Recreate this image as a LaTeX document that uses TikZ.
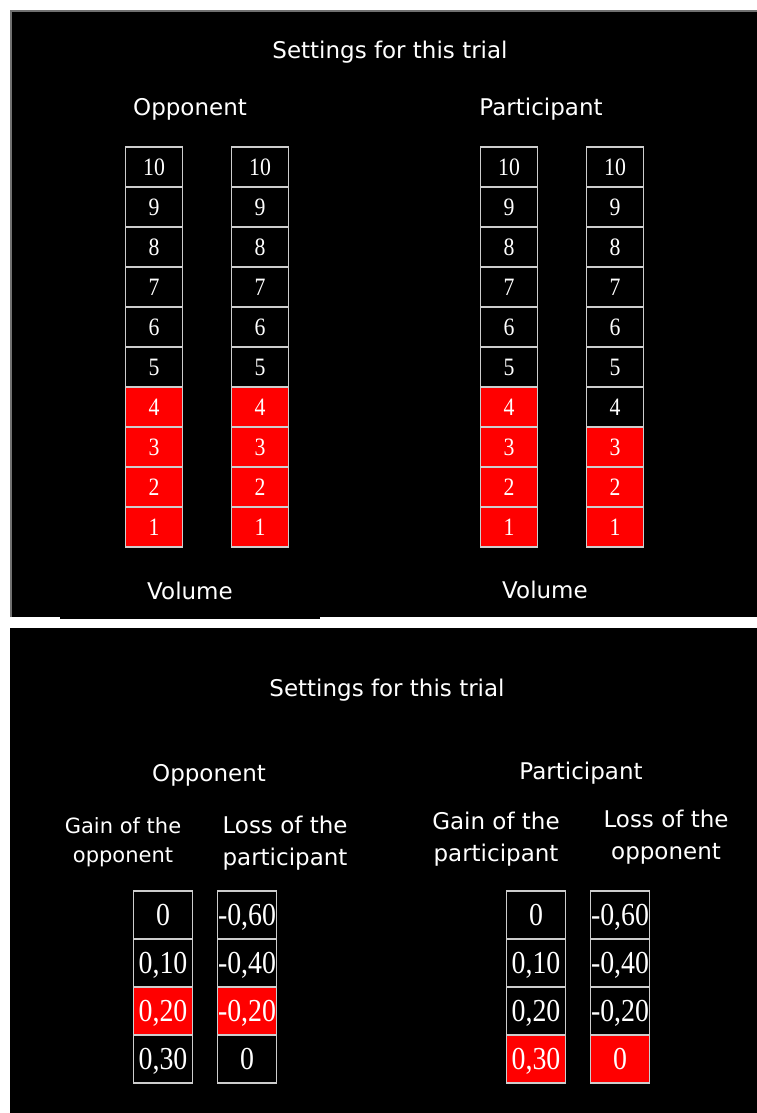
\documentclass[tikz,border=0pt]{standalone}
\usepackage{fontspec}
\setmainfont{DejaVu Sans}
\newfontfamily\numfont[FakeStretch=0.87]{Liberation Serif}
\usetikzlibrary{positioning}
\definecolor{Cadre}{RGB}{112,112,112}
\definecolor{Trait}{RGB}{205,205,205}
\definecolor{Rouge}{RGB}{255,0,0}
\tikzset{titre/.style={text=white, inner sep=0pt, font=\fontsize{23}{23}\selectfont}}
\tikzset{deuxl/.style={titre, align=center, font=\fontsize{23}{32}\selectfont}}
\tikzset{case/.style={rectangle, draw=Trait, fill=black, line width=1.2pt,
  text=white, minimum width=57pt, minimum height=40pt, inner sep=0pt,
  text depth=0pt, font=\numfont\fontsize{25}{25}\selectfont}}
\tikzset{caser/.style={case, fill=Rouge}}
\tikzset{casep/.style={case, minimum width=59pt, minimum height=48pt,
  font=\numfont\fontsize{32}{32}\selectfont}}
\tikzset{casepr/.style={casep, fill=Rouge}}

\begin{document}
\begin{tikzpicture}[x=1pt, y=-1pt]
\useasboundingbox (0,0) rectangle (757,1113);
\fill[white] (0,0) rectangle (757,1113);
% volume
\fill[black] (10,10) rectangle (757,617);
\fill[black] (60,617) rectangle (320,619);
\draw[Cadre, line width=2pt] (11,617) -- (11,11) -- (757,11);
\node[titre] (t1) at (390,52) {Settings for this trial};
\node[titre] (adv1) at (190,109) {Opponent};
\node[titre] (par1) at (541,109) {Participant};
\node[titre] (vol1) at (190,591) {Volume};
\node[titre] (vol2) at (545,590) {Volume};
\foreach \col/\cx/\nr in {a/154/4, b/260/4, c/509/4, d/615/3} {
  \foreach \v in {1,...,10} {
    \pgfmathsetmacro\cy{547-(\v-0.5)*40}
    \ifnum\v>\nr \def\sty{case}\else\def\sty{caser}\fi
    \node[\sty] (\col\v) at (\cx,\cy) {\v};
  }
}
% gains et pertes
\fill[black] (10,628) rectangle (757,1113);
\node[titre] (t2) at (387,690) {Settings for this trial};
\node[titre] (adv2) at (209,775) {Opponent};
\node[titre] (par2) at (581,773) {Participant};
\node[deuxl, font=\fontsize{21}{29}\selectfont] (g1) at (123,842) {Gain of the\\opponent};
\node[deuxl] (l1) at (285,843) {Loss of the\\participant};
\node[deuxl] (g2) at (496,839) {Gain of the\\participant};
\node[deuxl] (l2) at (666,837) {Loss of the\\opponent};
\foreach \v/\gain/\loss in {1/0/{-0,60}, 2/{0,10}/{-0,40}, 3/{0,20}/{-0,20}, 4/{0,30}/0} {
  \pgfmathsetmacro\cy{915+(\v-1)*48}
  \ifnum\v=3 \def\sa{casepr}\else\def\sa{casep}\fi
  \ifnum\v=4 \def\sb{casepr}\else\def\sb{casep}\fi
  \node[\sa] (ga\v) at (163,\cy) {\gain};
  \node[\sa] (pe\v) at (247,\cy) {\loss};
  \node[\sb] (gp\v) at (536,\cy) {\gain};
  \node[\sb] (po\v) at (620,\cy) {\loss};
}
\end{tikzpicture}
\end{document}
